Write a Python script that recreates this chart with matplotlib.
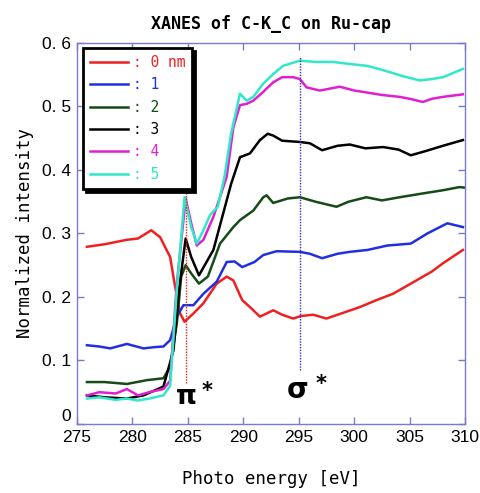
import matplotlib
matplotlib.use("Agg")
import matplotlib.pyplot as plt

# ---- data ----
e_red = [275.9, 277.5, 279.5, 280.5, 281.7, 282.5, 283.4, 283.8, 284.3, 284.7, 285.5, 286.4, 287.6, 288.5, 289.1,
         289.9, 290.6, 291.5, 292.7, 293.5, 294.5, 295.2, 296.3, 297.5, 299.0, 300.5, 302.0, 303.5, 305.6, 307.0,
         308.0, 309.8]
v_red = [0.279, 0.283, 0.290, 0.292, 0.305, 0.294, 0.263, 0.221, 0.174, 0.161, 0.174, 0.190, 0.221, 0.232, 0.226,
         0.195, 0.184, 0.169, 0.179, 0.172, 0.166, 0.170, 0.172, 0.166, 0.175, 0.184, 0.195, 0.205, 0.226, 0.240,
         0.253, 0.274]

e_blue = [275.9, 277.0, 278.0, 279.5, 281.0, 282.0, 282.8, 283.4, 284.0, 284.6, 285.5, 286.4, 287.6, 288.5, 289.2,
          289.9, 291.0, 291.8, 293.0, 295.1, 296.0, 297.1, 298.5, 299.6, 301.2, 303.0, 305.1, 306.6, 308.4, 309.8]
v_blue = [0.124, 0.122, 0.119, 0.126, 0.119, 0.121, 0.122, 0.132, 0.169, 0.187, 0.187, 0.205, 0.224, 0.255, 0.256,
          0.247, 0.255, 0.266, 0.272, 0.271, 0.268, 0.261, 0.268, 0.271, 0.274, 0.281, 0.284, 0.300, 0.316, 0.310]

e_green = [275.9, 277.5, 279.5, 281.3, 282.8, 283.4, 284.0, 284.4, 284.8, 285.3, 286.0, 286.8, 287.9, 289.1, 289.7,
           290.9, 291.8, 292.1, 292.7, 294.0, 295.1, 296.5, 298.4, 299.5, 301.1, 302.5, 304.1, 306.2, 308.0, 309.5, 310.0]
v_green = [0.066, 0.066, 0.063, 0.069, 0.072, 0.090, 0.158, 0.232, 0.250, 0.237, 0.221, 0.232, 0.284, 0.310, 0.321,
           0.336, 0.357, 0.360, 0.348, 0.355, 0.357, 0.350, 0.342, 0.350, 0.357, 0.352, 0.357, 0.363, 0.368, 0.373, 0.372]

e_black = [275.9, 277.5, 279.5, 281.0, 282.8, 283.7, 284.2, 284.8, 285.3, 286.0, 287.3, 288.1, 288.9, 289.7, 290.6,
           291.5, 292.2, 292.7, 293.5, 295.1, 296.0, 297.1, 298.5, 299.6, 301.0, 302.6, 304.0, 305.1, 306.5, 308.0, 309.8]
v_black = [0.045, 0.042, 0.040, 0.045, 0.059, 0.116, 0.211, 0.292, 0.263, 0.234, 0.274, 0.326, 0.378, 0.420, 0.426,
           0.447, 0.457, 0.454, 0.446, 0.444, 0.442, 0.431, 0.438, 0.440, 0.434, 0.436, 0.432, 0.423, 0.430, 0.438, 0.447]

e_magenta = [275.9, 277.0, 278.5, 279.5, 280.5, 281.5, 282.8, 283.4, 284.0, 284.8, 285.3, 285.8, 286.4, 287.3, 288.5,
             289.1, 289.7, 290.3, 290.9, 291.8, 292.7, 293.5, 294.5, 295.1, 295.7, 296.9, 298.7, 300.0, 301.1, 302.5,
             304.1, 305.0, 306.2, 307.0, 308.0, 309.8]
v_magenta = [0.045, 0.050, 0.048, 0.055, 0.045, 0.050, 0.055, 0.068, 0.220, 0.355, 0.316, 0.281, 0.290, 0.326, 0.389,
             0.467, 0.502, 0.504, 0.509, 0.523, 0.538, 0.546, 0.546, 0.543, 0.530, 0.525, 0.531, 0.525, 0.522, 0.518,
             0.515, 0.512, 0.507, 0.512, 0.515, 0.519]

e_cyan = [275.9, 277.0, 278.5, 279.5, 280.5, 281.5, 282.8, 283.4, 284.0, 284.7, 285.3, 285.8, 286.4, 287.0, 287.7,
          288.3, 288.9, 289.7, 290.3, 290.9, 291.8, 292.7, 293.6, 295.1, 296.5, 298.1, 299.5, 301.1, 302.0, 303.2,
          304.5, 305.9, 307.0, 308.0, 309.8]
v_cyan = [0.040, 0.042, 0.038, 0.040, 0.037, 0.040, 0.045, 0.060, 0.210, 0.357, 0.310, 0.284, 0.305, 0.329, 0.342,
          0.389, 0.457, 0.520, 0.509, 0.515, 0.536, 0.551, 0.564, 0.572, 0.570, 0.570, 0.567, 0.564, 0.560, 0.554,
          0.547, 0.541, 0.543, 0.546, 0.559]

labels = [": 0 nm", ": 1", ": 2", ": 3", ": 4", ": 5"]
colors = ["#ee2020", "#2030e0", "#164a16", "#000000", "#e020d0", "#30e8c8"]

x_ticks = [275, 280, 285, 290, 295, 300, 305, 310]
y_ticks = [0, 0.1, 0.2, 0.3, 0.4, 0.5, 0.6]
y_ticklabels = ["0", "0. 1", "0. 2", "0. 3", "0. 4", "0. 5", "0. 6"]

pi_energy = 284.8
sigma_energy = 295.1

# ---- figure ----
mono = ["DejaVu Sans Mono"]
tickfont = ["Liberation Sans", "DejaVu Sans"]
spine_col = "#7a7ad0"

fig = plt.figure(figsize=(4.81, 4.93), dpi=100)
ax = fig.add_axes([0.160, 0.140, 0.807, 0.773])

series = [(e_red, v_red), (e_blue, v_blue), (e_green, v_green),
          (e_black, v_black), (e_magenta, v_magenta), (e_cyan, v_cyan)]
for (ex, vy), c, lab in zip(series, colors, labels):
    ax.plot(ex, vy, color=c, lw=1.8, label=lab)

# resonance markers
ax.plot([pi_energy, pi_energy], [0.065, 0.373], color="#ee2020", lw=1.0, ls=(0, (1, 1)))
ax.plot([sigma_energy, sigma_energy], [0.085, 0.58], color="#3030c0", lw=1.0, ls=(0, (1, 1)))
ax.text(284.9, 0.042, "π", ha="center", va="center", fontsize=19, fontweight="bold")
ax.text(286.7, 0.052, "*", ha="center", va="center", fontsize=15, fontweight="bold")
ax.text(294.9, 0.053, "σ", ha="center", va="center", fontsize=20, fontweight="bold")
ax.text(297.0, 0.063, "*", ha="center", va="center", fontsize=15, fontweight="bold")

ax.set_xlim(275, 310)
ax.set_ylim(0, 0.6)
ax.set_xticks(x_ticks)
ax.set_yticks(y_ticks)
ax.set_yticklabels(y_ticklabels)
for sp in ax.spines.values():
    sp.set_color(spine_col)
    sp.set_linewidth(1.0)
ax.tick_params(direction="in", length=5, width=1, color=spine_col, top=True, right=True,
               labelsize=12.5, pad=4)
for lab in ax.get_xticklabels() + ax.get_yticklabels():
    lab.set_family(tickfont)
ax.get_yticklabels()[0].set_va("bottom")

ax.set_title("XANES of C-K_C on Ru-cap", family=mono, fontsize=12, fontweight="bold", pad=10)
ax.set_xlabel("Photo energy [eV]", family=mono, fontsize=12.5, labelpad=18)
ax.set_ylabel("Normalized intensity", family=mono, fontsize=12.5, labelpad=6)

leg = ax.legend(loc="upper left", bbox_to_anchor=(6 / 388, 1 - 5 / 381), borderaxespad=0,
                frameon=True, fancybox=False,
                shadow={"color": "black", "alpha": 1.0}, labelcolor="linecolor",
                handlelength=2.6, handletextpad=0.3, borderpad=0.5, labelspacing=0.5,
                prop={"family": mono, "size": 10.5})
leg.get_frame().set_edgecolor("black")
leg.get_frame().set_linewidth(2.0)
leg.get_frame().set_alpha(1.0)

fig.savefig("out.png", dpi=100)
